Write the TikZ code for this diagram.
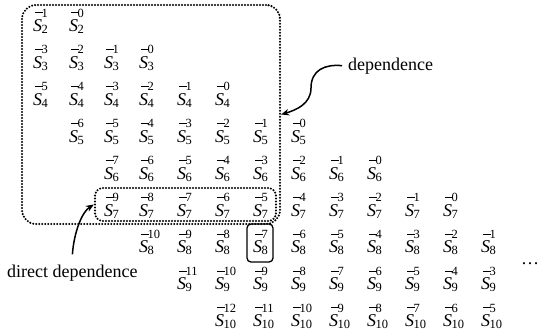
\documentclass[tikz,border=0pt]{standalone}
\usepackage{fontspec}
\setmainfont{Liberation Serif}
\usetikzlibrary{arrows.meta}
\newcommand\subsz{\fontsize{12.5}{13}\selectfont}
\newcommand\Sb[2]{%
  \rlap{\hspace{1.8pt}\rule[18.5pt]{8pt}{0.8pt}}%
  \textit{S}\kern-0.5pt%
  \rlap{\raisebox{-2pt}{\subsz #1}}%
  \raisebox{14.5pt}{\subsz #2}}
\newcommand\colarr{{0,33,69,104,139,177,215,253,291,329,367,405,443,481}}
\tikzset{
  sym/.style={anchor=base west, inner sep=0pt},
  lbl/.style={anchor=base west, inner sep=0pt},
  dotbox/.style={draw, line width=2.3pt, dash pattern=on 0pt off 3pt, line cap=round, rounded corners=#1, inner sep=0pt},
  solidbox/.style={draw, line width=1.3pt, rounded corners=4pt, inner sep=0pt},
  conn/.style={line width=1.5pt, -{Stealth[length=8pt,width=6.5pt]}},
}
\begin{document}
\begin{tikzpicture}[x=1pt,y=-1pt,every node/.style={font=\fontsize{18}{21}\selectfont}]
\useasboundingbox (0,0) rectangle (540,335);
\foreach \r/\s/\e/\j in {2/1/2/1, 3/1/4/3, 4/1/6/5, 5/2/8/6, 6/3/10/7, 7/3/12/9, 8/4/13/10, 9/5/13/11, 10/6/13/12} {
  \foreach \c in {\s,...,\e} {
    \pgfmathtruncatemacro\sup{\j-(\c-\s)}
    \pgfmathsetmacro\xx{\colarr[\c]}
    \node[sym] (s\r-\c) at (\xx, {31.5+36.9*(\r-2)}) {\Sb{\r}{\sup}};
  }
}
% boxes
\node[dotbox=14pt, minimum width=258pt, minimum height=219pt] (big) at (151,114.5) {};
\node[dotbox=8pt, minimum width=181pt, minimum height=33pt] (inner) at (185.5,204.5) {};
\node[solidbox, minimum width=26pt, minimum height=38pt] (sel) at (260,243) {};
% labels
\node[lbl] (deplbl) at (348,70) {dependence};
\node[lbl] (ddlbl) at (7,277) {direct dependence};
\node[lbl] (dots) at (521,264) {\ldots};
% connectors
\draw[conn] ([xshift=-6pt]deplbl.west) .. controls (325,64) and (311,70) .. (311,88) .. controls (311,104) and (296,110) .. (big.east);
\draw[conn] ([yshift=10pt]ddlbl.north) .. controls (74,232) and (82,212) .. (inner.west);
\end{tikzpicture}
\end{document}
